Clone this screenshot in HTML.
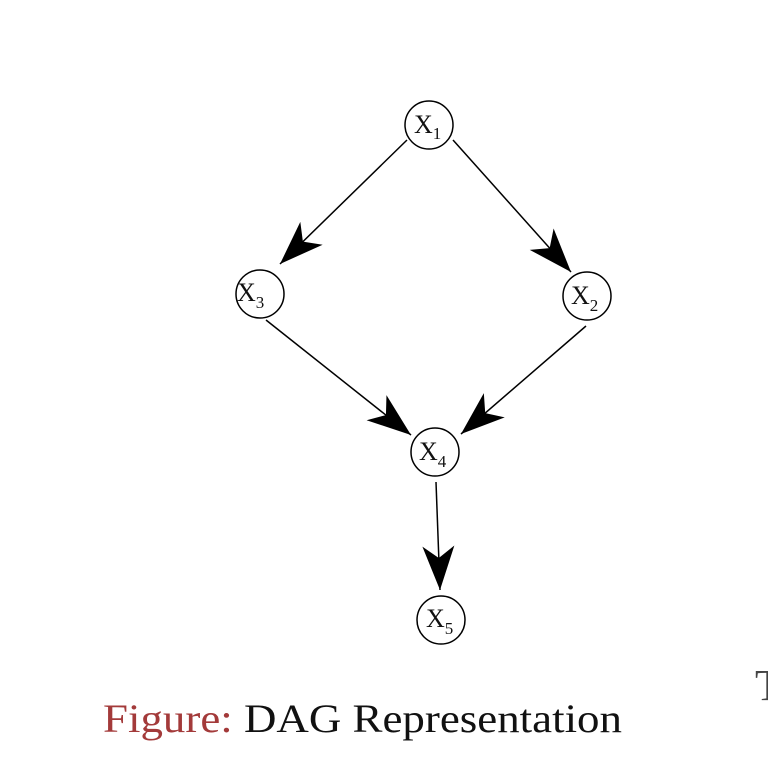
<!DOCTYPE html>
<html><head><style>
html,body{margin:0;padding:0;background:#fff;width:768px;height:768px;overflow:hidden}
</style></head><body>
<svg width="768" height="768" viewBox="0 0 768 768" xmlns="http://www.w3.org/2000/svg">
<defs>
<marker id="ah" markerUnits="userSpaceOnUse" markerWidth="50" markerHeight="40" refX="0" refY="0" viewBox="-45 -20 50 40" orient="auto">
<path d="M0,0 L-44,-16 L-32,0 L-44,16 Z" fill="#000"/>
</marker>
</defs>
<g stroke="#000" stroke-width="1.5" fill="none">
<line x1="407" y1="140" x2="280" y2="264" marker-end="url(#ah)"/>
<line x1="453" y1="140" x2="571" y2="272" marker-end="url(#ah)"/>
<line x1="266" y1="320" x2="411" y2="435" marker-end="url(#ah)"/>
<line x1="586" y1="326" x2="461" y2="434" marker-end="url(#ah)"/>
<line x1="436" y1="482" x2="440" y2="590" marker-end="url(#ah)"/>
<circle cx="429" cy="125" r="24"/>
<circle cx="260" cy="294" r="24"/>
<circle cx="587" cy="296" r="24"/>
<circle cx="435" cy="452" r="24"/>
<circle cx="441" cy="620" r="24"/>
</g>
<g font-family="Liberation Serif, serif" font-size="26" fill="#111">
<text x="414" y="133">X<tspan font-size="17" dy="6">1</tspan></text>
<text x="237" y="301">X<tspan font-size="17" dy="7">3</tspan></text>
<text x="571" y="304">X<tspan font-size="17" dy="7">2</tspan></text>
<text x="419" y="460">X<tspan font-size="17" dy="7">4</tspan></text>
<text x="426" y="627">X<tspan font-size="17" dy="7">5</tspan></text>
</g>
<text x="103" y="732" font-family="Liberation Serif, serif" font-size="40" textLength="519" lengthAdjust="spacingAndGlyphs"><tspan fill="#a33a3a">Figure:</tspan><tspan fill="#111"> DAG Representation</tspan></text>
<text x="755" y="700" font-family="Liberation Serif, serif" font-size="44" fill="#444">T</text>
</svg>
</body></html>
